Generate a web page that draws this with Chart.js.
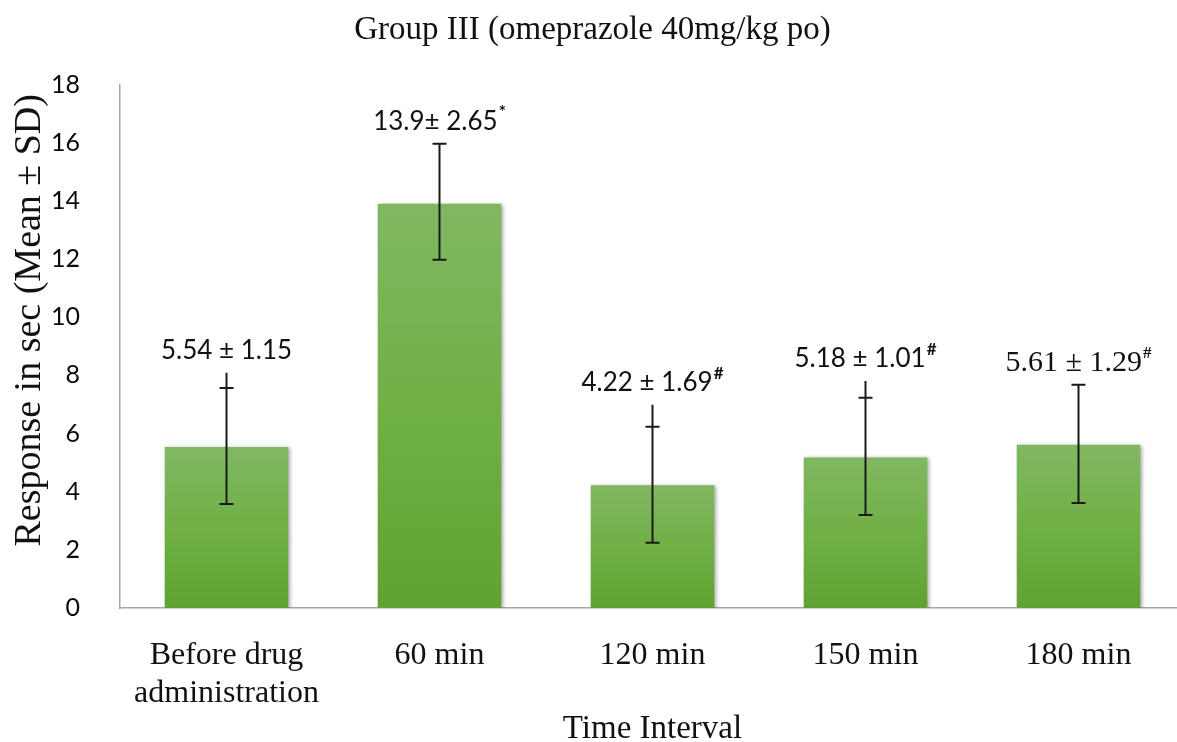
<!DOCTYPE html>
<html>
<head>
<meta charset="utf-8">
<script src="https://cdn.jsdelivr.net/npm/chart.js@4.4.0/dist/chart.umd.min.js"></script>
<style>
  html, body { margin: 0; padding: 0; background: #fff; overflow: hidden; }
  #wrap { width: 1185px; height: 742px; }
</style>
</head>
<body>
<div id="wrap"><canvas id="chart" width="1185" height="742"></canvas></div>
<script>
// values
const categories = [['Before drug', 'administration'], '60 min', '120 min', '150 min', '180 min'];
const means = [5.54, 13.9, 4.22, 5.18, 5.61];
// error bars as drawn (caps), and where the whisker line actually stops on top
const capLow = [3.58, 11.98, 2.24, 3.2, 3.61];
const capHigh = [7.57, 15.97, 6.23, 7.23, 7.68];
const whiskerTop = [8.09, 15.97, 6.99, 7.81, 7.68];
const labelTexts = ['5.54 \u00b1 1.15', '13.9\u00b1 2.65', '4.22 \u00b1 1.69', '5.18 \u00b1 1.01', '5.61 \u00b1 1.29'];
const labelMarks = ['', '*', '#', '#', '#'];
const yTicks = [0, 2, 4, 6, 8, 10, 12, 14, 16, 18];
const yTitle = 'Response in sec (Mean \u00b1 SD)';

const serif = '"Liberation Serif", "Times New Roman", serif';
const sans = 'Lato, "Noto Sans", sans-serif';

// per-bar vertical gradient, light on top, darker at the base
function barGradient(ctx) {
  const chart = ctx.chart;
  if (!chart.chartArea || !chart.scales.y) return '#6fae45';
  const y = chart.scales.y;
  const top = y.getPixelForValue(means[ctx.dataIndex]);
  const base = y.getPixelForValue(0);
  const g = chart.ctx.createLinearGradient(0, top, 0, base);
  g.addColorStop(0, '#80b862');
  g.addColorStop(0.5, '#70b045');
  g.addColorStop(1, '#61a234');
  return g;
}

const barShadow = {
  id: 'barShadow',
  beforeDatasetDraw(chart) {
    const c = chart.ctx;
    c.save();
    c.shadowColor = 'rgba(0,0,0,0.35)';
    c.shadowBlur = 4;
    c.shadowOffsetX = 2;
    c.shadowOffsetY = 1;
  },
  afterDatasetDraw(chart) {
    chart.ctx.restore();
  }
};

// the y title sits a bit above the middle of the axis in the original
const sideTitle = {
  id: 'sideTitle',
  afterDraw(chart) {
    const c = chart.ctx;
    const a = chart.chartArea;
    c.save();
    c.translate(30, (a.top + a.bottom) / 2 - 26);
    c.rotate(-Math.PI / 2);
    c.font = '38px ' + serif;
    c.fillStyle = '#111';
    c.textAlign = 'center';
    c.textBaseline = 'middle';
    c.fillText(yTitle, 0, 0);
    c.restore();
  }
};

const errorBars = {
  id: 'errorBars',
  afterDatasetsDraw(chart) {
    const c = chart.ctx;
    const y = chart.scales.y;
    const meta = chart.getDatasetMeta(0);
    c.save();
    c.strokeStyle = '#1a1a1a';
    c.lineWidth = 2;
    meta.data.forEach((bar, i) => {
      const x = bar.x;
      const lo = y.getPixelForValue(capLow[i]);
      const hi = y.getPixelForValue(capHigh[i]);
      const top = y.getPixelForValue(whiskerTop[i]);
      c.beginPath();
      c.moveTo(x, lo);
      c.lineTo(x, Math.min(hi, top));
      c.moveTo(x - 7, lo);
      c.lineTo(x + 7, lo);
      c.moveTo(x - 7, hi);
      c.lineTo(x + 7, hi);
      c.stroke();

      // value label above the whisker
      const serifLabel = i === 4;
      const mainFont = serifLabel ? '30px ' + serif : '26px ' + sans;
      const markFont = serifLabel ? 'bold 17px ' + serif : 'bold 17px ' + sans;
      c.font = mainFont;
      const w1 = c.measureText(labelTexts[i]).width;
      c.font = markFont;
      const w2 = labelMarks[i] ? c.measureText(labelMarks[i]).width + 1 : 0;
      const ly = Math.min(hi, top) - 22;
      const lx = x - (w1 + w2) / 2;
      c.fillStyle = '#111';
      c.textBaseline = 'middle';
      c.textAlign = 'left';
      c.font = mainFont;
      c.fillText(labelTexts[i], lx, ly);
      if (labelMarks[i]) {
        c.font = markFont;
        c.fillText(labelMarks[i], lx + w1 + 1, ly - 9);
      }
    });
    c.restore();
  }
};

new Chart(document.getElementById('chart'), {
  type: 'bar',
  data: {
    labels: categories,
    datasets: [{
      data: means,
      backgroundColor: barGradient,
      borderWidth: 0,
      categoryPercentage: 1,
      barPercentage: 0.58
    }]
  },
  options: {
    responsive: false,
    animation: false,
    layout: { padding: { left: 0, right: 0, top: 0, bottom: 0 } },
    plugins: {
      legend: { display: false },
      tooltip: { enabled: false },
      title: {
        display: true,
        text: 'Group III (omeprazole 40mg/kg po)',
        color: '#111',
        font: { family: serif, size: 33, weight: 'normal', lineHeight: 1.2 },
        padding: { top: 11, bottom: 34 }
      }
    },
    scales: {
      x: {
        grid: { display: false },
        border: { display: true, color: '#a6a6a6', width: 1.5 },
        ticks: {
          color: '#111',
          font: { family: serif, size: 32, lineHeight: 1.2 },
          padding: 20,
          maxRotation: 0,
          autoSkip: false
        },
        title: {
          display: true,
          text: 'Time Interval',
          color: '#111',
          font: { family: serif, size: 33, lineHeight: 0.75 },
          padding: { top: 0, bottom: 0 }
        },
        afterFit(scale) { scale.height = 134; }
      },
      y: {
        min: 0,
        max: 18,
        afterBuildTicks(scale) { scale.ticks = yTicks.map(v => ({ value: v })); },
        grid: { display: false, drawTicks: false },
        border: { display: true, color: '#a6a6a6', width: 1.5 },
        ticks: {
          color: '#0a0a0a',
          font: { family: sans, size: 25 },
          padding: 40
        },
        afterFit(scale) { scale.width = 120; }
      }
    }
  },
  plugins: [barShadow, errorBars, sideTitle]
});
</script>
</body>
</html>
